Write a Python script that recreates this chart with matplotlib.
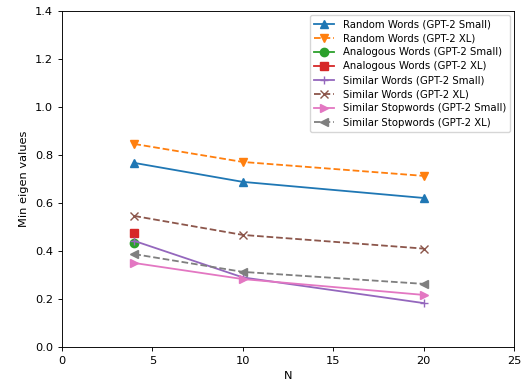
import matplotlib
matplotlib.use("Agg")
import matplotlib.pyplot as plt

N = [4, 10, 20]
random_small = [0.767, 0.688, 0.621]
random_xl = [0.846, 0.771, 0.713]
analogous_small = [0.433]
analogous_xl = [0.475]
similar_small = [0.442, 0.290, 0.183]
similar_xl = [0.546, 0.467, 0.410]
stop_small = [0.350, 0.283, 0.217]
stop_xl = [0.387, 0.313, 0.263]

s = 0.82
plt.rcParams['font.size'] = 10 * s
fig = plt.figure(figsize=(5.25, 3.85), dpi=100)
ax = fig.add_axes([62/525, 1 - 347/385, (514-62)/525, (347-11)/385])
ms = 6
lw = 1.3
ax.plot(N, random_small, '-^', color='C0', ms=ms, lw=lw, label='Random Words (GPT-2 Small)')
ax.plot(N, random_xl, '--v', color='C1', ms=ms, lw=lw, label='Random Words (GPT-2 XL)')
ax.plot(N[:1], analogous_small, '-o', color='C2', ms=ms, lw=lw, label='Analogous Words (GPT-2 Small)')
ax.plot(N[:1], analogous_xl, '-s', color='C3', ms=ms, lw=lw, label='Analogous Words (GPT-2 XL)')
ax.plot(N, similar_small, '-+', color='C4', ms=ms, lw=lw, label='Similar Words (GPT-2 Small)')
ax.plot(N, similar_xl, '--x', color='C5', ms=ms, lw=lw, label='Similar Words (GPT-2 XL)')
ax.plot(N, stop_small, '->', color='C6', ms=ms, lw=lw, label='Similar Stopwords (GPT-2 Small)')
ax.plot(N, stop_xl, '--<', color='C7', ms=ms, lw=lw, label='Similar Stopwords (GPT-2 XL)')
ax.set_xlim(0, 25)
ax.set_ylim(0, 1.4)
ax.set_xlabel('N')
ax.set_ylabel('Min eigen values')
ax.legend(fontsize=7.3, handlelength=2.0, labelspacing=0.4, borderaxespad=0.4)
for sp in ax.spines.values():
    sp.set_linewidth(0.8 * s)
ax.tick_params(width=0.8 * s, length=3.5 * s)
fig.savefig('out.png', dpi=100)
